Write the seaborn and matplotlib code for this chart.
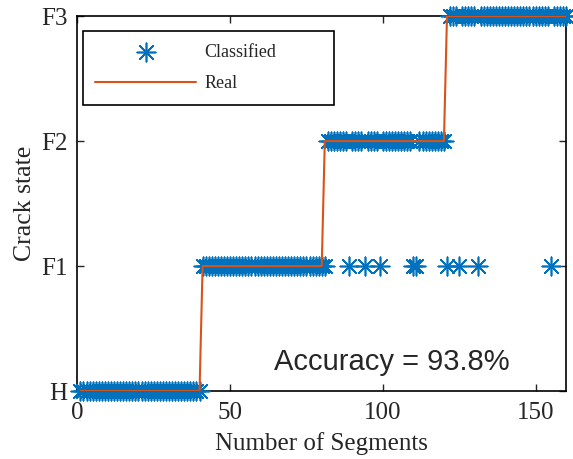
import numpy as np
import pandas as pd
import matplotlib
matplotlib.use("Agg")
import matplotlib.pyplot as plt
import seaborn as sns

# ==========================================
# DATA
# ==========================================
STATE_LABELS = ['H', 'F1', 'F2', 'F3']
N_SEGMENTS = 160

# real crack state of each segment: 40 segments per state
real_state = [0] * 40 + [1] * 40 + [2] * 40 + [3] * 40
# segments that were classified wrongly, and the state they got
wrong_segments = [81, 89, 94, 99, 110, 111, 121, 125, 131, 155]
wrong_states = [1, 1, 1, 1, 1, 1, 1, 1, 1, 1]
ACCURACY_TEXT = "Accuracy = 93.8%"

BLUE = '#0072BD'
ORANGE = '#D95319'

segments = np.arange(1, N_SEGMENTS + 1)
classified = list(real_state)
for seg, st in zip(wrong_segments, wrong_states):
    classified[seg - 1] = st

df = pd.DataFrame({'segment': segments, 'real': real_state, 'classified': classified})

sns.set_style('ticks')
plt.rcParams['font.family'] = ['Liberation Serif', 'DejaVu Serif']

fig = plt.figure(figsize=(5.73, 4.59), dpi=100)
ax = fig.add_axes([0.135, 0.148, 0.853, 0.817])

sns.scatterplot(data=df, x='segment', y='classified', ax=ax, marker=(8, 2, 0),
                s=175, color=BLUE, edgecolor=BLUE, linewidth=1.2, label='Classified',
                clip_on=False, zorder=3)
sns.lineplot(data=df, x='segment', y='real', ax=ax, color=ORANGE, linewidth=1.5,
             label='Real', zorder=4)

ax.set_xlim(0, 160)
ax.set_ylim(0, 3)
ax.set_xticks([0, 50, 100, 150])
ax.set_yticks([0, 1, 2, 3])
ax.set_yticklabels(STATE_LABELS)
ax.tick_params(direction='in', top=True, right=True, labelsize=18, length=5, width=1)
ax.tick_params(axis='x', pad=8)
ax.tick_params(axis='y', pad=7)
for sp in ax.spines.values():
    sp.set_linewidth(1.2)
    sp.set_color('black')

ax.set_xlabel('Number of Segments', fontsize=18, labelpad=6)
ax.set_ylabel('Crack state', fontsize=18.5, labelpad=4)

ax.text(0.644, 0.077, ACCURACY_TEXT, transform=ax.transAxes, ha='center', va='center',
        fontsize=21, family=['Liberation Sans', 'DejaVu Sans'])

leg = ax.legend(loc='upper left', bbox_to_anchor=(0.011, 0.96, 0.514, 0.0), mode='expand',
                borderaxespad=0, fontsize=13, handlelength=5.6, handletextpad=0.45,
                labelspacing=0.8, borderpad=0.7, fancybox=False, framealpha=1,
                edgecolor='black')
leg.get_frame().set_linewidth(1.2)

fig.savefig('out.png', dpi=100)
